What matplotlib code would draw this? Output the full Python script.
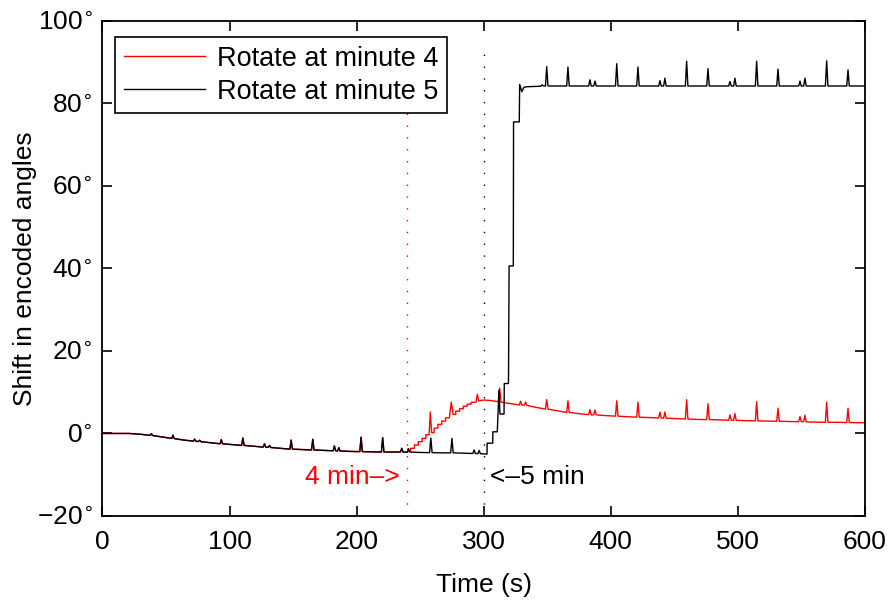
import matplotlib
matplotlib.use("Agg")
import matplotlib.pyplot as plt

plt.rcParams['font.family'] = ['Liberation Sans', 'DejaVu Sans']
plt.rcParams['axes.unicode_minus'] = True

# ---- data: shared part (both runs identical before 240 s) ----
shared_t = [0, 21, 30, 37.5, 38.5, 39.5, 48, 54.5, 55.5, 56.5, 64, 71.5, 72.5, 73.5,
            75.5, 76.5, 77.5, 85, 92.5, 93.5, 94.5, 102, 109.5, 110.5, 111.5, 119,
            126.5, 127.5, 128.5, 130.5, 131.5, 132.5, 140, 147.5, 148.5, 149.5, 157,
            164.5, 165.5, 166.5, 174, 181.5, 182.5, 183.5, 185, 186, 187, 195,
            202.5, 203.5, 204.5, 212, 219.5, 220.5, 221.5, 229, 234.5, 235.5, 236.5, 240]
shared_v = [0, 0, -0.2, -0.45, -0.05, -0.5, -0.9, -1.2, -0.4, -1.25, -1.6, -1.85, -1.35, -1.9,
            -1.95, -1.65, -2.0, -2.25, -2.5, -1.5, -2.5, -2.7, -2.9, -1.1, -2.9, -3.1,
            -3.3, -2.5, -3.3, -3.35, -2.9, -3.4, -3.6, -3.8, -1.6, -3.8, -3.9,
            -4.0, -1.4, -4.0, -4.1, -4.2, -3.0, -4.2, -4.25, -3.45, -4.25, -4.35,
            -4.4, -0.9, -4.4, -4.45, -4.5, -1.0, -4.5, -4.5, -4.5, -3.6, -4.5, -4.55]

# ---- rotate at minute 4 (after 240 s) ----
red_t = [240.7, 241.7, 242.5, 242.5, 245.5, 245.5, 248.5, 248.5, 251.5, 251.5, 254.5,
         254.5, 257, 258, 259, 261, 261, 264, 264, 267, 267, 270, 270, 273,
         274.5, 276, 278, 278, 281, 281, 284, 284, 287, 287, 290, 290, 294, 295, 296,
         300, 305, 311.5, 312.6,
         313.6, 320, 328, 329, 330, 332, 333, 334, 340, 348.6, 349.6, 350.6, 360,
         365.3, 366.3, 367.3, 376, 382.6, 383.6, 384.6, 386.6, 387.6, 388.6, 395,
         403.7, 404.7, 405.7, 413, 420.4, 421.4, 422.4, 430, 437.7, 438.7, 439.7,
         441.6, 442.6, 443.6, 450, 458.7, 459.7, 460.7, 468, 475.5, 476.5, 477.5,
         485, 492.8, 493.8, 494.8, 496.7, 497.7, 498.7, 505, 513.8, 514.8, 515.8,
         523, 530.6, 531.6, 532.6, 540, 547.9, 548.9, 549.9, 551.8, 552.8, 553.8,
         560, 568.9, 569.9, 570.9, 578, 585.7, 586.7, 587.7, 595, 600]
red_v = [-3.7, -4.3, -4.3, -3.6, -3.6, -2.8, -2.8, -2.0, -2.0, -1.2, -1.2,
         -0.3, -0.3, 5.2, 0.2, 0.2, 1.3, 1.3, 2.2, 2.2, 3.0, 3.0, 3.8, 3.8,
         7.6, 4.6, 4.6, 5.4, 5.4, 6.0, 6.0, 6.6, 6.6, 7.1, 7.1, 7.5, 7.6, 9.5, 7.9,
         8.1, 8.0, 7.7, 11.0,
         7.6, 7.3, 6.9, 7.8, 6.9, 6.85, 7.6, 6.8, 6.4, 5.9, 8.2, 5.9, 5.4,
         5.1, 7.9, 5.1, 4.75, 4.55, 5.75, 4.5, 4.5, 5.7, 4.5, 4.35,
         4.2, 7.9, 4.2, 4.05, 3.95, 7.6, 3.95, 3.85, 3.75, 5.15, 3.75,
         3.7, 5.2, 3.7, 3.6, 3.5, 8.2, 3.5, 3.4, 3.35, 7.2, 3.35,
         3.3, 3.2, 4.5, 3.2, 3.2, 4.8, 3.2, 3.1, 3.05, 7.7, 3.05,
         3.0, 2.95, 6.1, 2.95, 2.9, 2.85, 4.1, 2.85, 2.85, 4.4, 2.8,
         2.75, 2.7, 7.6, 2.7, 2.7, 2.65, 6.1, 2.65, 2.6, 2.6]

# ---- rotate at minute 5 (after 240 s) ----
black_t = [240.7, 241.7, 250, 257.4, 258.4, 259.4, 266, 274, 275, 276, 285, 291.5,
           292.5, 293.5, 295.4, 296.4, 297.4, 302.6, 302.7, 307.1, 307.2, 310.7, 312.0,
           312.8, 316, 316.2, 319.5, 320.0, 323.3, 323.5, 328.0, 328.3, 330, 331.5, 333,
           340, 345, 346, 347, 348.6, 349.6, 350.6, 365.3, 366.3, 367.3, 382.6, 383.6,
           384.6, 386.6, 387.6, 388.6, 403.7, 404.7, 405.7, 420.4, 421.4, 422.4, 437.7,
           438.7, 439.7, 441.6, 442.6, 443.6, 458.7, 459.7, 460.7, 475.5, 476.5, 477.5,
           492.8, 493.8, 494.8, 496.7, 497.7, 498.7, 513.8, 514.8, 515.8, 530.6, 531.6,
           532.6, 547.9, 548.9, 549.9, 551.8, 552.8, 553.8, 568.9, 569.9, 570.9, 585.7,
           586.7, 587.7, 600]
black_v = [-3.7, -4.5, -4.6, -4.65, -1.1, -4.65, -4.7, -4.7, -1.2, -4.7, -4.8, -4.85,
           -4.0, -4.85, -4.9, -4.1, -4.9, -5.0, -2.35, -2.35, 0.4, 0.4, 10.5,
           4.7, 4.7, 12.1, 12.1, 40.6, 40.6, 75.5, 75.5, 84.6, 82.8, 83.8, 84.0,
           84.1, 84.15, 84.5, 84.2, 84.2, 88.9, 84.2, 84.2, 88.8, 84.2, 84.2, 85.7,
           84.2, 84.2, 85.4, 84.2, 84.2, 89.6, 84.2, 84.2, 88.8, 84.2, 84.2,
           85.5, 84.2, 84.2, 86.1, 84.2, 84.2, 90.2, 84.2, 84.2, 88.4, 84.2,
           84.2, 85.3, 84.2, 84.2, 86.1, 84.2, 84.2, 90.2, 84.2, 84.2, 88.3,
           84.2, 84.2, 85.4, 84.2, 84.2, 86.1, 84.2, 84.2, 90.3, 84.2, 84.2,
           88.1, 84.2, 84.2]

x_ticks = [0, 100, 200, 300, 400, 500, 600]
y_ticks = [-20, 0, 20, 40, 60, 80, 100]
series_labels = ["Rotate at minute 4", "Rotate at minute 5"]

FS = 19

fig = plt.figure(figsize=(8.88, 6.03), dpi=100)
ax = fig.add_axes([0.1154, 0.1443, 0.8586, 0.8212])

ax.plot(shared_t + red_t, shared_v + red_v, color='red', lw=1.0, label=series_labels[0])
ax.plot(shared_t + black_t, shared_v + black_v, color='black', lw=1.0, label=series_labels[1])

ax.vlines(240, -20, 92, colors='red', linestyles=(0, (1, 7.5)), lw=1.0)
ax.vlines(300, -20, 92, colors='black', linestyles=(0, (1, 7.5)), lw=1.0)

ax.text(234, -10.6, "4 min\u2013>", color='red', fontsize=FS, ha='right', va='center')
ax.text(305, -10.6, "<\u20135 min", color='black', fontsize=FS, ha='left', va='center')

ax.set_xlim(0, 600)
ax.set_ylim(-20, 100)
ax.set_xticks(x_ticks)
ax.set_xticklabels([str(v) for v in x_ticks])
ax.set_yticks(y_ticks)
ax.set_yticklabels([("\u2212" + str(abs(v)) if v < 0 else str(v)) + r"$^{\circ}$" for v in y_ticks])
ax.tick_params(direction='in', length=7, width=1.2, top=True, right=True,
               labelsize=FS, pad=7)
ax.tick_params(axis='x', pad=10)
for s in ax.spines.values():
    s.set_linewidth(1.3)

ax.set_xlabel("Time (s)", fontsize=FS, labelpad=14)
ax.set_ylabel("Shift in encoded angles", fontsize=FS, labelpad=0)

leg = ax.legend(loc='upper left', bbox_to_anchor=(0.0164, 0.967), borderaxespad=0,
                fontsize=19.5, handlelength=3.0, handletextpad=0.45, labelspacing=0.25,
                borderpad=0.32, fancybox=False, framealpha=1, edgecolor='black')
leg.get_frame().set_linewidth(1.2)

fig.savefig("out.png", dpi=100)
